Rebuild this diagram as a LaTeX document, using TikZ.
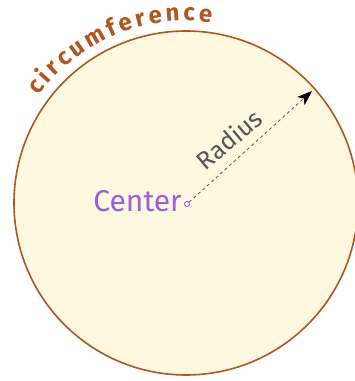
\documentclass[tikz,border=0pt]{standalone}
\usepackage{fontspec}
\setmainfont{Fira Sans}
\usetikzlibrary{decorations.text,arrows.meta}
\definecolor{rim}{HTML}{B0561F}
\definecolor{disc}{HTML}{FFF8E1}
\definecolor{purp}{HTML}{9B5FD9}
\definecolor{ink}{HTML}{555555}
\tikzset{
  rimcircle/.style={circle, draw=rim, fill=disc, line width=1.6pt, inner sep=0pt},
  dotnode/.style={circle, draw=purp, fill=disc, line width=0.9pt, minimum size=5pt, inner sep=0pt},
  centerlabel/.style={text=purp, inner sep=0pt, font=\fontsize{30}{34}\selectfont},
  radiuslabel/.style={text=ink, inner sep=0pt, font=\fontsize{25}{28}\selectfont},
  radiusarrow/.style={ink, dashed, line width=0.8pt, -{Stealth[length=15pt,width=11pt,inset=4pt,black]}}
}
\begin{document}
\begin{tikzpicture}[x=1pt,y=1pt]
\useasboundingbox (0,0) rectangle (355,381);
\node[rimcircle, minimum size=344pt] (disc) at (186,178) {};
\node[dotnode] (ctr) at (187,177) {};
\node[centerlabel, anchor=east] (lbl) at (182,180) {Center};
\coordinate (tip) at (312,290);
\draw[radiusarrow] (ctr) -- (tip);
\node[radiuslabel, rotate=40] (rad) at (229,242) {Radius};
\path[decorate, decoration={text along path,
  text={|\fontsize{24}{28}\selectfont\bfseries|circumference},
  text align=fit to path, text color=rim}]
  (38.8,285.0) arc (144:82:182);
\end{tikzpicture}
\end{document}
